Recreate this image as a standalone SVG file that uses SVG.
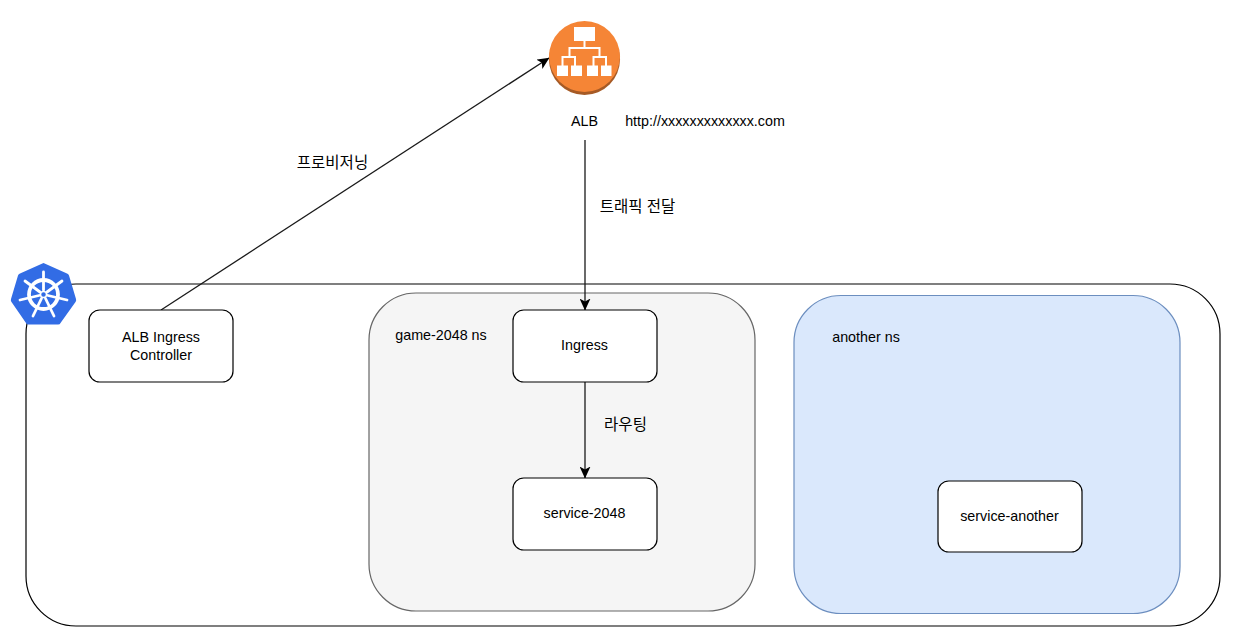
<svg xmlns="http://www.w3.org/2000/svg" width="1246" height="644" viewBox="0 0 1246 644">
<defs>
<marker id="arr" viewBox="0 0 12 11" refX="11.500" refY="5.500" markerWidth="12" markerHeight="11" markerUnits="userSpaceOnUse" orient="auto"><path d="M0 0L12 5.500L0 11L3 5.500Z" fill="#000"/></marker>
</defs>
<style>
text{font-family:"Liberation Sans","Noto Sans CJK KR",sans-serif;font-size:14.3px;fill:#000;text-anchor:middle}
text.ko{font-size:15.500px}
.node{fill:#fff;stroke:#000;stroke-width:1.2}
.edge{fill:none;stroke:#1a1a1a;stroke-width:1.3;marker-end:url(#arr)}
.wh{fill:#fff}
.ln{fill:none;stroke:#fff;stroke-width:2}
.sp{stroke:#fff;stroke-width:2.800;stroke-linecap:round}
</style>
<rect width="1246" height="644" fill="#fff"/>
<g id="cluster"><rect x="26" y="284" width="1194" height="342" rx="50" ry="50" fill="#fff" stroke="#000" stroke-width="1.2"/></g>
<g id="k8s-icon">
<path d="M43.500 263L67 273.500Q68.500 274 69 275.500L76 299Q76.500 301 75.500 302L60.500 323Q60 324.500 58 324.500H28.500Q26.500 324.500 26 323L11.500 302Q10.500 301 11 299L18 275.500Q18.500 274 20 273.500Z" fill="#326ce5"/>
<circle cx="43.500" cy="294.500" r="14.500" fill="none" stroke="#fff" stroke-width="3.800"/>
<g class="sp">
<line x1="43.500" y1="272" x2="43.500" y2="290"/>
<line x1="62" y1="281" x2="47" y2="292"/>
<line x1="67" y1="300" x2="48" y2="295.500"/>
<line x1="54" y1="316" x2="45.500" y2="298.500"/>
<line x1="33" y1="316" x2="41.500" y2="298.500"/>
<line x1="20" y1="300" x2="39" y2="295.500"/>
<line x1="25" y1="281" x2="40" y2="292"/>
</g>
<circle cx="43.500" cy="294.500" r="3" fill="#326ce5" stroke="#fff" stroke-width="1.500"/>
</g>
<g id="game-2048-ns"><rect x="369" y="293" width="386" height="318" rx="47" ry="47" fill="#f5f5f5" stroke="#666" stroke-width="1.2"/><text x="441" y="340">game-2048 ns</text></g>
<g id="another-ns"><rect x="794" y="295.500" width="386" height="318" rx="47" ry="47" fill="#dae8fc" stroke="#6c8ebf" stroke-width="1.2"/><text x="866" y="342">another ns</text></g>
<g id="connectors">
<path class="edge" d="M161 310L549 58"/>
<path class="edge" d="M585 140V310"/>
<path class="edge" d="M585 382V478"/>
</g>
<g id="alb-controller"><rect class="node" x="89" y="310" width="144" height="72" rx="10.800" ry="10.800"/><text x="161" y="342">ALB Ingress</text><text x="161" y="360">Controller</text></g>
<g id="ingress"><rect class="node" x="513" y="310" width="144" height="72" rx="10.800" ry="10.800"/><text x="584.500" y="350">Ingress</text></g>
<g id="service-2048"><rect class="node" x="513" y="478" width="144" height="72" rx="10.800" ry="10.800"/><text x="584.500" y="518">service-2048</text></g>
<g id="service-another"><rect class="node" x="938" y="481" width="144" height="71" rx="10.800" ry="10.800"/><text x="1009.500" y="521">service-another</text></g>
<g id="alb-icon">
<circle cx="584.500" cy="59.500" r="35.500" fill="#a65a25"/>
<circle cx="584.500" cy="56.500" r="35.500" fill="#f58536"/>
<rect class="wh" x="574" y="27" width="21" height="14"/>
<path class="ln" d="M584.500 41V48M569.500 57V48H599.500V57M562.500 66V57H575V66M593.500 66V57H606V66"/>
<rect class="wh" x="557" y="65.500" width="11" height="10.500"/><rect class="wh" x="571" y="65.500" width="11" height="10.500"/><rect class="wh" x="587" y="65.500" width="11" height="10.500"/><rect class="wh" x="601" y="65.500" width="10.500" height="10.500"/>
</g>
<g id="labels">
<text x="584.500" y="126">ALB</text>
<text x="705" y="126">http://xxxxxxxxxxxxx.com</text>
<text class="ko" x="332.500" y="168">프로비저닝</text>
<text class="ko" x="637.500" y="212">트래픽 전달</text>
<text class="ko" x="625.500" y="430">라우팅</text>
</g>
</svg>
